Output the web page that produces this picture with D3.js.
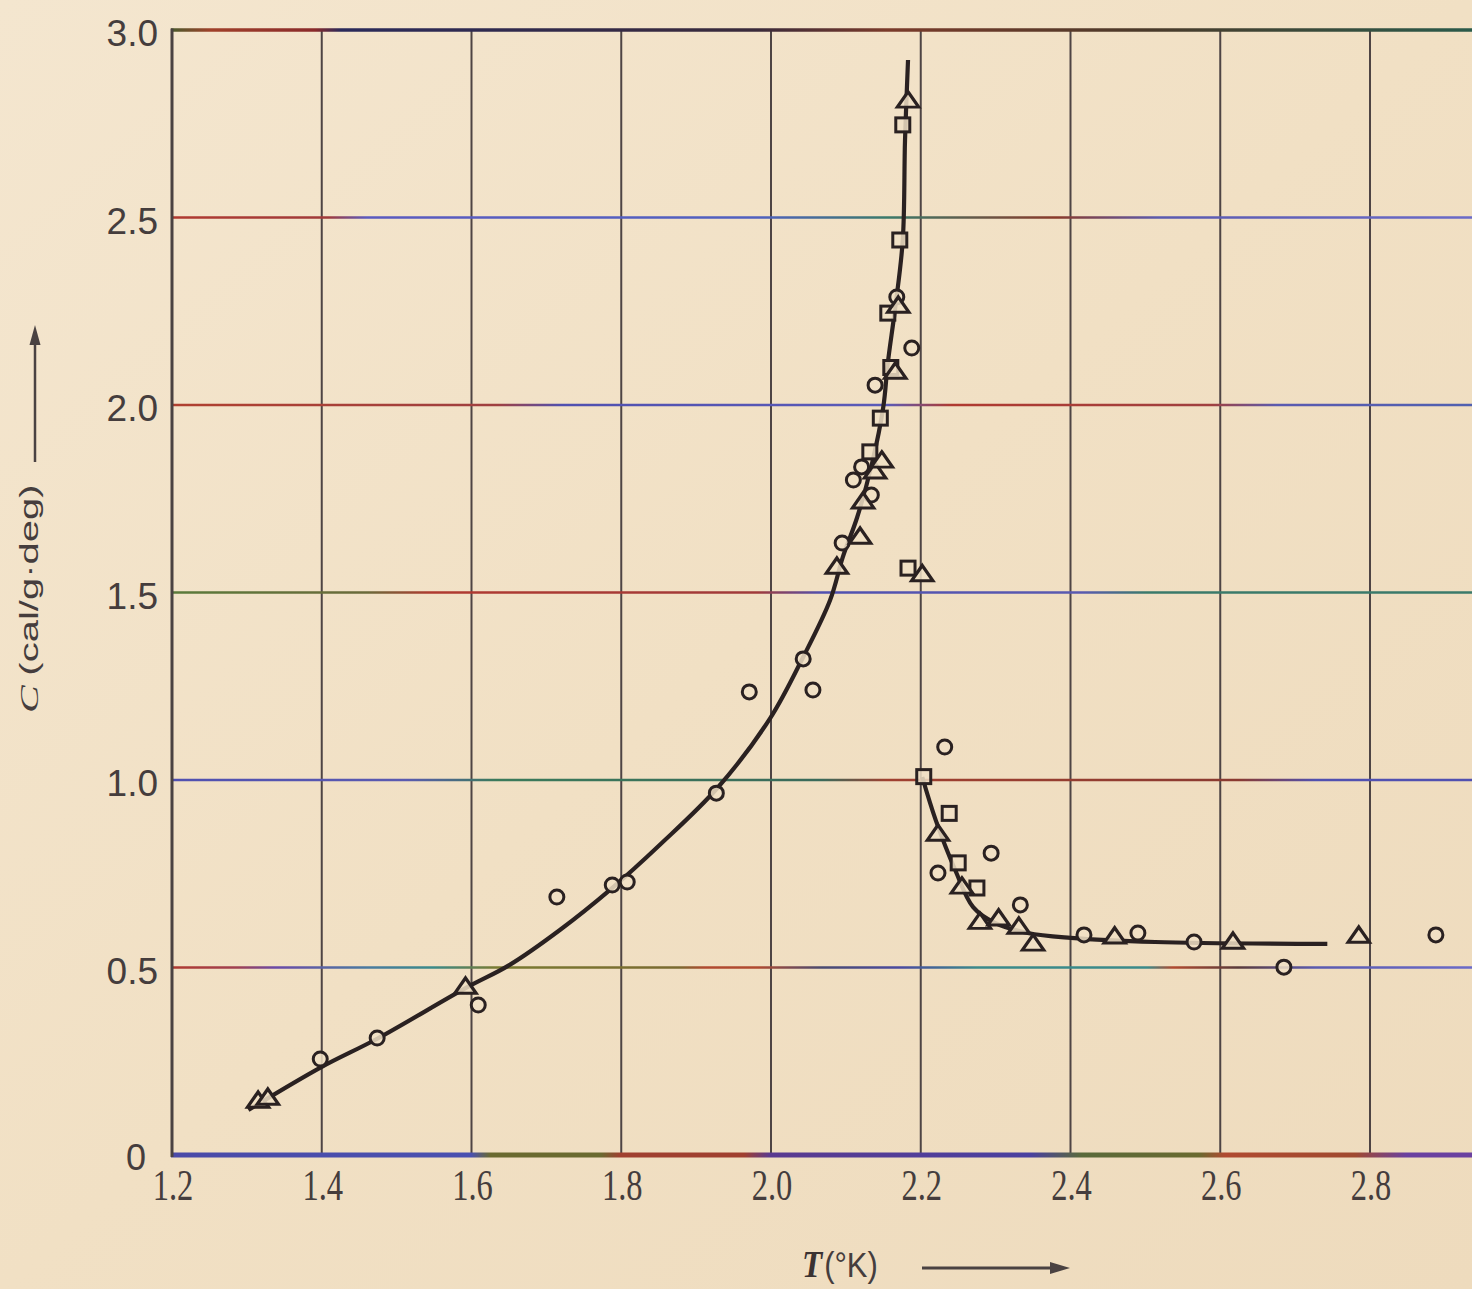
<!DOCTYPE html>
<html>
<head>
<meta charset="utf-8">
<script src="https://cdn.jsdelivr.net/npm/d3@7"></script>
<style>
	body { margin: 0; background: #f1e1c5; }
	svg { display: block; }
</style>
</head>
<body>
<script>

// temperatures (K) and specific heat C (cal/g-deg)
var circleT = [1.398, 1.474, 1.609, 1.714, 1.788, 1.808, 1.927, 1.971, 2.043, 2.056, 2.095, 2.110, 2.121, 2.134, 2.139, 2.168, 2.188,
	2.232, 2.223, 2.294, 2.333, 2.418, 2.490, 2.565, 2.685, 2.888];
var circleC = [0.256, 0.312, 0.400, 0.688, 0.720, 0.728, 0.965, 1.235, 1.323, 1.240, 1.632, 1.800, 1.835, 1.760, 2.053, 2.288, 2.152,
	1.088, 0.752, 0.805, 0.667, 0.587, 0.592, 0.568, 0.501, 0.587];

var squareT = [2.176, 2.172, 2.156, 2.160, 2.146, 2.132, 2.183, 2.204, 2.238, 2.250, 2.275];
var squareC = [2.747, 2.440, 2.245, 2.100, 1.965, 1.875, 1.565, 1.009, 0.911, 0.779, 0.712];

var triangleT = [1.315, 1.328, 1.592, 2.088, 2.119, 2.123, 2.139, 2.148, 2.166, 2.170, 2.183,
	2.202, 2.223, 2.255, 2.279, 2.304, 2.331, 2.350, 2.459, 2.617, 2.785];
var triangleC = [0.141, 0.149, 0.445, 1.565, 1.645, 1.739, 1.819, 1.848, 2.085, 2.261, 2.808,
	1.545, 0.853, 0.712, 0.618, 0.627, 0.605, 0.560, 0.579, 0.565, 0.581];

// smooth curve, below and above the lambda point
var lowCurveT = [1.302, 1.400, 1.474, 1.592, 1.651, 1.718, 1.785, 1.852, 1.929, 1.999, 2.043, 2.079, 2.096, 2.115,
	2.135, 2.150, 2.156, 2.166, 2.176, 2.179, 2.183];
var lowCurveC = [0.120, 0.235, 0.310, 0.445, 0.507, 0.600, 0.707, 0.828, 0.980, 1.165, 1.328, 1.480, 1.595, 1.700,
	1.845, 1.995, 2.112, 2.261, 2.440, 2.707, 2.920];

var highCurveT = [2.202, 2.220, 2.246, 2.270, 2.299, 2.343, 2.400, 2.513, 2.743];
var highCurveC = [1.008, 0.893, 0.760, 0.661, 0.619, 0.592, 0.579, 0.568, 0.563];

var xTicks = [1.2, 1.4, 1.6, 1.8, 2.0, 2.2, 2.4, 2.6, 2.8];
var xGrid = [1.4, 1.6, 1.8, 2.0, 2.2, 2.4, 2.6, 2.8, 3.0];
var yTicks = [0.5, 1.0, 1.5, 2.0, 2.5, 3.0];
var yLabels = ['0.5', '1.0', '1.5', '2.0', '2.5', '3.0'];


var W = 1472, H = 1289;
var ink = '#2a2121';
var textCol = '#453d3d';
var paper = '#f1e1c5';

var x = d3.scaleLinear().domain([1.2, 3.0]).range([172, 1519.75]);
var y = d3.scaleLinear().domain([0, 3.0]).range([1155, 30]);

var svg = d3.select('body').append('svg')
	.attr('width', W)
	.attr('height', H);

var defs = svg.append('defs');

// paper
var pg = defs.append('linearGradient')
	.attr('id', 'paper')
	.attr('x1', 0).attr('y1', 0)
	.attr('x2', 1).attr('y2', 1);
pg.append('stop').attr('offset', 0).attr('stop-color', '#f4e6cf');
pg.append('stop').attr('offset', 0.5).attr('stop-color', '#f1e0c4');
pg.append('stop').attr('offset', 1).attr('stop-color', '#eedbbd');

svg.append('rect')
	.attr('x', 0).attr('y', 0)
	.attr('width', W).attr('height', H)
	.attr('fill', 'url(#paper)');

// colour fringes of the printed horizontal rules (scan artefact)
var fringes = {
	0: [[0, '#4a4aa8'], [0.23, '#4a50b0'], [0.245, '#6a6a30'], [0.33, '#6a6a30'], [0.345, '#a04030'], [0.44, '#a04030'],
		[0.46, '#5a3a90'], [0.66, '#4a40a0'], [0.70, '#5a6a3a'], [0.79, '#6a6a30'], [0.81, '#b04a30'], [0.91, '#a04a30'],
		[0.95, '#6a40a0'], [1, '#6a40a0']],
	0.5: [[0, '#b03a30'], [0.05, '#a04050'], [0.08, '#6a4aa8'], [0.15, '#4a7aa0'], [0.2, '#3a8a8a'], [0.25, '#7a7a30'],
		[0.39, '#7a6a30'], [0.41, '#b04a30'], [0.45, '#b04a30'], [0.5, '#4a4a70'], [0.56, '#4a4aa0'], [0.62, '#3a8a8a'],
		[0.75, '#3a8a8a'], [0.77, '#b04a30'], [0.82, '#5a3a3a'], [0.88, '#5a5ab0'], [1, '#6a6ac8']],
	1.0: [[0, '#5050b0'], [0.18, '#5a5ab0'], [0.25, '#3a7a5a'], [0.5, '#3a6a5a'], [0.55, '#a04030'], [0.82, '#8a3a30'],
		[0.88, '#5050b0'], [1, '#5050b0']],
	1.5: [[0, '#5a7a3a'], [0.15, '#6a6a3a'], [0.2, '#b03a30'], [0.45, '#a03a3a'], [0.5, '#5050b0'], [0.7, '#5a5ab0'],
		[0.75, '#3a7a6a'], [1, '#3a7a6a']],
	2.0: [[0, '#b04030'], [0.25, '#a04040'], [0.3, '#5050b0'], [0.55, '#5a5ab8'], [0.6, '#b03a30'], [0.8, '#a04040'],
		[0.85, '#5a5ab0'], [1, '#5060b0']],
	2.5: [[0, '#b03a30'], [0.12, '#a03a3a'], [0.15, '#5a5ac0'], [0.45, '#5060c0'], [0.55, '#3a7a6a'], [0.68, '#8a3a2a'],
		[0.76, '#5a5ab0'], [1, '#6a6ac8']],
	3.0: [[0, '#4b5a2c'], [0.03, '#a0402a'], [0.11, '#8a2a2a'], [0.13, '#2a2a5a'], [0.45, '#3a2a3a'], [0.55, '#7a3a2a'],
		[0.75, '#4a3a2a'], [1, '#2a5a4a']]
};

for (var key in fringes) {
	var g = defs.append('linearGradient')
		.attr('id', 'fr' + String(key).replace('.', '_'))
		.attr('gradientUnits', 'userSpaceOnUse')
		.attr('x1', 172).attr('y1', 0)
		.attr('x2', W).attr('y2', 0);
	fringes[key].forEach(function(s) {
		g.append('stop').attr('offset', s[0]).attr('stop-color', s[1]);
	});
}

// vertical rules
svg.append('g').selectAll('line')
	.data(xGrid).enter()
	.append('line')
	.attr('x1', function(d) { return x(d); })
	.attr('x2', function(d) { return x(d); })
	.attr('y1', y(3.0))
	.attr('y2', y(0))
	.attr('stroke', '#4e4444')
	.attr('stroke-width', 2);

// horizontal rules
svg.append('g').selectAll('line')
	.data(yTicks).enter()
	.append('line')
	.attr('x1', x(1.2) - 1)
	.attr('x2', W)
	.attr('y1', function(d) { return y(d); })
	.attr('y2', function(d) { return y(d); })
	.attr('stroke', function(d) { return 'url(#fr' + String(d).replace('.', '_') + ')'; })
	.attr('stroke-width', function(d) { return d === 3 ? 3.5 : 2.5; });

// bottom axis rule
svg.append('line')
	.attr('x1', x(1.2) - 1).attr('x2', W)
	.attr('y1', y(0)).attr('y2', y(0))
	.attr('stroke', 'url(#fr0)')
	.attr('stroke-width', 5);

// left axis rule
svg.append('line')
	.attr('x1', x(1.2)).attr('x2', x(1.2))
	.attr('y1', y(3.0) - 1.5).attr('y2', y(0) + 2)
	.attr('stroke', '#4a4242')
	.attr('stroke-width', 3);

// y tick labels
svg.append('g').selectAll('text')
	.data(yTicks).enter()
	.append('text')
	.attr('x', 158)
	.attr('y', function(d) { return y(d) + 16; })
	.attr('text-anchor', 'end')
	.attr('font-family', '"Liberation Sans", Arial, sans-serif')
	.attr('font-size', 37)
	.attr('fill', textCol)
	.text(function(d, i) { return yLabels[i]; });

svg.append('text')
	.attr('x', 136)
	.attr('y', y(0) + 15)
	.attr('text-anchor', 'middle')
	.attr('font-family', '"Liberation Sans", Arial, sans-serif')
	.attr('font-size', 36)
	.attr('fill', textCol)
	.text('0');

// x tick labels (tall, narrow print)
svg.append('g').selectAll('text')
	.data(xTicks).enter()
	.append('text')
	.attr('transform', function(d) { return 'translate(' + (x(d) + 1) + ',1200) scale(0.88,1.2)'; })
	.attr('text-anchor', 'middle')
	.attr('font-family', '"Liberation Serif", "Times New Roman", serif')
	.attr('font-size', 37)
	.attr('fill', textCol)
	.text(function(d) { return d.toFixed(1); });

// axis titles
var yt = svg.append('text')
	.attr('transform', 'translate(38,713) rotate(-90) scale(1.6,1)')
	.attr('fill', textCol)
	.attr('font-size', 26);
yt.append('tspan')
	.attr('font-family', '"Liberation Serif", serif')
	.attr('font-style', 'italic')
	.text('C');
yt.append('tspan')
	.attr('font-family', '"Liberation Sans", Arial, sans-serif')
	.attr('font-size', 25)
	.attr('dx', 6)
	.text('(cal/g\u00b7deg)');

svg.append('line')
	.attr('x1', 35).attr('x2', 35)
	.attr('y1', 462).attr('y2', 340)
	.attr('stroke', '#4a4242')
	.attr('stroke-width', 2.5);
svg.append('path')
	.attr('d', 'M35,325 L29.5,345 L40.5,345 Z')
	.attr('fill', '#4a4242');

var xt = svg.append('text')
	.attr('transform', 'translate(802,1277) scale(1,1.12)')
	.attr('fill', textCol)
	.attr('font-size', 33);
xt.append('tspan')
	.attr('font-family', '"Liberation Serif", serif')
	.attr('font-style', 'italic')
	.attr('font-weight', 'bold')
	.attr('fill', '#3a3232')
	.text('T');
xt.append('tspan')
	.attr('font-family', '"Liberation Sans", Arial, sans-serif')
	.attr('font-size', 31)
	.attr('dx', 2)
	.text('(\u00b0K)');

svg.append('line')
	.attr('x1', 922).attr('x2', 1054)
	.attr('y1', 1268).attr('y2', 1268)
	.attr('stroke', '#4a4242')
	.attr('stroke-width', 3);
svg.append('path')
	.attr('d', 'M1070,1268 L1050,1262 L1050,1274 Z')
	.attr('fill', '#4a4242');

// theory curve
var line = d3.line()
	.x(function(d) { return x(d[0]); })
	.y(function(d) { return y(d[1]); })
	.curve(d3.curveCatmullRom.alpha(0.5));

var lowCurve = lowCurveT.map(function(t, i) { return [t, lowCurveC[i]]; });
var highCurve = highCurveT.map(function(t, i) { return [t, highCurveC[i]]; });

svg.append('g').selectAll('path')
	.data([lowCurve, highCurve]).enter()
	.append('path')
	.attr('d', line)
	.attr('fill', 'none')
	.attr('stroke', ink)
	.attr('stroke-width', 4.2)
	.attr('stroke-linecap', 'butt');

// data markers
var marks = svg.append('g')
	.attr('fill', paper)
	.attr('fill-opacity', 0.85)
	.attr('stroke', ink)
	.attr('stroke-width', 3);

marks.selectAll('circle')
	.data(circleT).enter()
	.append('circle')
	.attr('cx', function(d) { return x(d); })
	.attr('cy', function(d, i) { return y(circleC[i]); })
	.attr('r', 7);

marks.selectAll('rect')
	.data(squareT).enter()
	.append('rect')
	.attr('x', function(d) { return x(d) - 7; })
	.attr('y', function(d, i) { return y(squareC[i]) - 7; })
	.attr('width', 14)
	.attr('height', 14);

var tri = d3.symbol().type(d3.symbolTriangle).size(150);
marks.selectAll('path.tri')
	.data(triangleT).enter()
	.append('path')
	.attr('class', 'tri')
	.attr('d', tri)
	.attr('stroke-linejoin', 'miter')
	.attr('transform', function(d, i) { return 'translate(' + x(d) + ',' + y(triangleC[i]) + ') scale(1.15,0.95)'; });

</script>
</body>
</html>
